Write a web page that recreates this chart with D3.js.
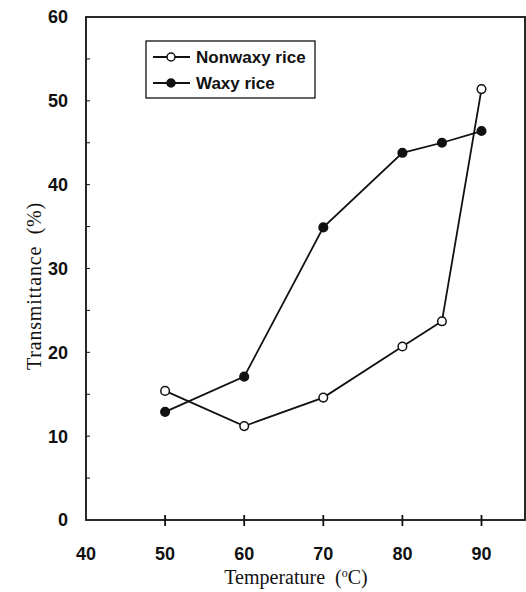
<!DOCTYPE html>
<html lang="en">
<head>
    <meta charset="UTF-8">
    <title>Transmittance vs Temperature</title>
    <script src="https://d3js.org/d3.v7.min.js"></script>
    <style>
        body { margin: 0; background: #fff; }
        text { white-space: pre; }
        .tick-label { font-family: "Liberation Sans", Arial, sans-serif; font-size: 18px; font-weight: bold; fill: #111; }
        .axis-title { font-family: "Liberation Serif", "Times New Roman", serif; font-size: 20px; fill: #111; }
        .legend-text { font-family: "Liberation Sans", Arial, sans-serif; font-size: 17px; font-weight: bold; fill: #111; }
    </style>
</head>
<body>
    <script>
        const temps = [50, 60, 70, 80, 85, 90];
        const nonwaxy = [15.4, 11.2, 14.6, 20.7, 23.7, 51.4];
        const waxy = [12.9, 17.1, 34.9, 43.8, 45.0, 46.4];
        const xTicks = [40, 50, 60, 70, 80, 90];
        const yTicks = [0, 10, 20, 30, 40, 50, 60];
        const yMinor = [5, 15, 25, 35, 45, 55];

        const width = 526, height = 592;
        const plotLeft = 86, plotRight = 525, plotTop = 17, plotBottom = 520;

        const svg = d3.select("body").append("svg")
            .attr("width", width)
            .attr("height", height);

        const x = d3.scaleLinear().domain([40, 95.5]).range([plotLeft, plotRight]);
        const y = d3.scaleLinear().domain([0, 60]).range([plotBottom, plotTop]);

        // frame
        svg.append("rect")
            .attr("x", plotLeft).attr("y", plotTop)
            .attr("width", plotRight - plotLeft).attr("height", plotBottom - plotTop)
            .attr("fill", "none").attr("stroke", "#111").attr("stroke-width", 1.8);

        // x ticks (cross the axis)
        svg.selectAll(".xt").data(xTicks.slice(1)).enter().append("line")
            .attr("x1", d => x(d)).attr("x2", d => x(d))
            .attr("y1", plotBottom - 5).attr("y2", plotBottom + 6)
            .attr("stroke", "#111").attr("stroke-width", 1.8);

        svg.selectAll(".xl").data(xTicks).enter().append("text")
            .attr("class", "tick-label")
            .attr("x", d => x(d)).attr("y", 560)
            .attr("text-anchor", "middle")
            .text(d => d);

        // y ticks, inward
        svg.selectAll(".yt").data(yTicks.slice(1, -1).concat(yMinor)).enter().append("line")
            .attr("x1", plotLeft).attr("x2", plotLeft + 4)
            .attr("y1", d => y(d)).attr("y2", d => y(d))
            .attr("stroke", "#111").attr("stroke-width", 1);

        svg.selectAll(".yl").data(yTicks).enter().append("text")
            .attr("class", "tick-label")
            .attr("x", 68).attr("y", d => y(d))
            .attr("dy", "0.36em")
            .attr("text-anchor", "end")
            .text(d => d);

        // titles
        const xt = svg.append("text").attr("class", "axis-title")
            .attr("x", 296).attr("y", 584).attr("text-anchor", "middle");
        xt.append("tspan").text("Temperature  (");
        xt.append("tspan").attr("dy", -7).attr("font-size", 12).text("o");
        xt.append("tspan").attr("dy", 7).text("C)");

        svg.append("text").attr("class", "axis-title")
            .attr("transform", "translate(41,286) rotate(-90)")
            .attr("text-anchor", "middle")
            .attr("font-size", 21)
            .attr("letter-spacing", 0.8)
            .text("Transmittance  (%)");

        const line = d3.line().x((d, i) => x(temps[i])).y(d => y(d));

        const series = [
            { name: "Nonwaxy rice", values: nonwaxy, fill: "#fff" },
            { name: "Waxy rice", values: waxy, fill: "#111" }
        ];

        series.forEach(s => {
            svg.append("path")
                .attr("d", line(s.values))
                .attr("fill", "none").attr("stroke", "#111").attr("stroke-width", 1.8);
        });
        series.forEach(s => {
            svg.selectAll(null).data(s.values).enter().append("circle")
                .attr("cx", (d, i) => x(temps[i])).attr("cy", d => y(d))
                .attr("r", 4.3)
                .attr("fill", s.fill).attr("stroke", "#111").attr("stroke-width", 1.5);
        });

        // legend
        const lg = svg.append("g");
        lg.append("rect")
            .attr("x", 146).attr("y", 41).attr("width", 169).attr("height", 57)
            .attr("fill", "#fff").attr("stroke", "#111").attr("stroke-width", 1.3);
        series.forEach((s, i) => {
            const yy = 57 + i * 26;
            lg.append("line")
                .attr("x1", 153).attr("x2", 190).attr("y1", yy).attr("y2", yy)
                .attr("stroke", "#111").attr("stroke-width", 1.8);
            lg.append("circle")
                .attr("cx", 171).attr("cy", yy).attr("r", 4)
                .attr("fill", s.fill).attr("stroke", "#111").attr("stroke-width", 1.5);
            lg.append("text")
                .attr("class", "legend-text")
                .attr("x", 196).attr("y", yy).attr("dy", "0.35em")
                .text(s.name);
        });
    </script>
</body>
</html>
